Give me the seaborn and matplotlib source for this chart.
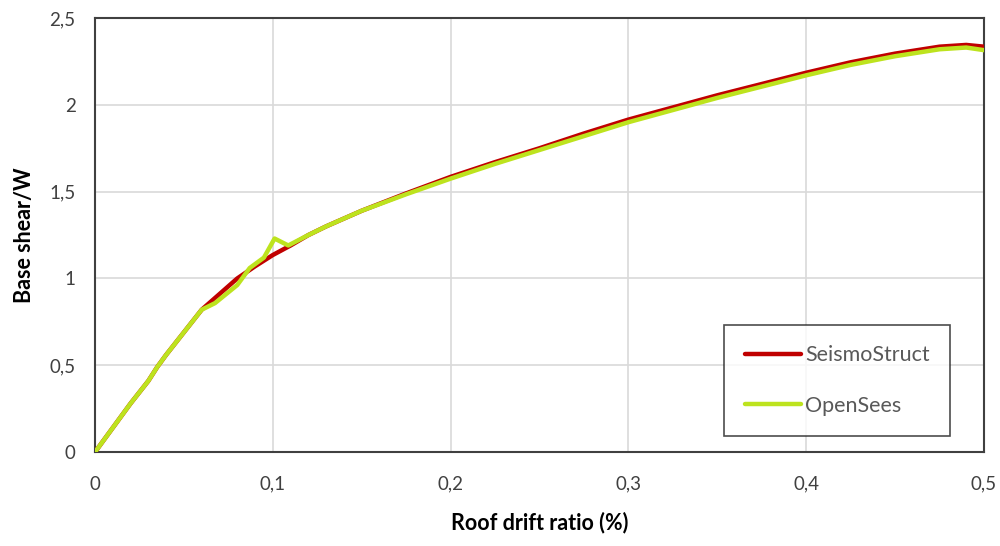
import matplotlib
matplotlib.use("Agg")
import matplotlib.pyplot as plt
import seaborn as sns
import pandas as pd

# SeismoStruct series
seismo_x = [0, 0.01, 0.02, 0.03, 0.035, 0.04, 0.05, 0.06, 0.07, 0.08, 0.09, 0.10,
            0.11, 0.12, 0.13, 0.15, 0.175, 0.20, 0.225, 0.25, 0.275, 0.30, 0.325,
            0.35, 0.375, 0.40, 0.425, 0.45, 0.475, 0.49, 0.50]
seismo_y = [0, 0.14, 0.28, 0.41, 0.49, 0.56, 0.69, 0.82, 0.91, 1.00, 1.07, 1.135,
            1.19, 1.25, 1.30, 1.39, 1.49, 1.585, 1.67, 1.75, 1.835, 1.915, 1.985,
            2.055, 2.12, 2.185, 2.245, 2.295, 2.335, 2.345, 2.335]

# OpenSees series
opensees_x = [0, 0.01, 0.02, 0.03, 0.035, 0.04, 0.05, 0.06, 0.0675, 0.08, 0.087,
              0.095, 0.101, 0.1087, 0.12, 0.13, 0.15, 0.175, 0.20, 0.225, 0.25,
              0.275, 0.30, 0.325, 0.35, 0.375, 0.40, 0.425, 0.45, 0.475, 0.49, 0.50]
opensees_y = [0, 0.14, 0.28, 0.41, 0.49, 0.56, 0.69, 0.82, 0.858, 0.962, 1.06,
              1.12, 1.23, 1.19, 1.25, 1.30, 1.39, 1.485, 1.575, 1.66, 1.74,
              1.82, 1.90, 1.97, 2.04, 2.105, 2.17, 2.23, 2.28, 2.32, 2.33, 2.315]

x_ticks = [0, 0.1, 0.2, 0.3, 0.4, 0.5]
x_ticklabels = ["0", "0,1", "0,2", "0,3", "0,4", "0,5"]
y_ticks = [0, 0.5, 1, 1.5, 2, 2.5]
y_ticklabels = ["0", "0,5", "1", "1,5", "2", "2,5"]

sns.set_theme(style="white")
plt.rcParams['font.family'] = ['Lato', 'DejaVu Sans']

fig = plt.figure(figsize=(10, 5.46), dpi=100)
ax = fig.add_axes([0.095, 0.172, 0.889, 0.795])

df_s = pd.DataFrame({"x": seismo_x, "y": seismo_y})
df_o = pd.DataFrame({"x": opensees_x, "y": opensees_y})
sns.lineplot(data=df_s, x="x", y="y", ax=ax, color="#C00000", linewidth=3.2,
             label="SeismoStruct", sort=False, zorder=3)
sns.lineplot(data=df_o, x="x", y="y", ax=ax, color="#BDE31E", linewidth=3.2,
             label="OpenSees", sort=False, zorder=4)

ax.set_xlim(0, 0.5)
ax.set_ylim(0, 2.5)
ax.set_xticks(x_ticks)
ax.set_xticklabels(x_ticklabels)
ax.set_yticks(y_ticks)
ax.set_yticklabels(y_ticklabels)
ax.tick_params(axis="both", length=0, labelsize=13.5, colors="#404040")
ax.tick_params(axis="x", pad=17)
ax.tick_params(axis="y", pad=14)
ax.grid(True, color="#D9D9D9", linewidth=1.2)
ax.set_axisbelow(True)
for s in ax.spines.values():
    s.set_visible(True)
    s.set_color("#404040")
    s.set_linewidth(1.5)

ax.set_xlabel("Roof drift ratio (%)", fontsize=15.5, fontweight="bold",
              color="#000000", labelpad=14)
ax.set_ylabel("Base shear/W", fontsize=15.5, fontweight="bold",
              color="#000000", labelpad=10)

leg = ax.legend(loc="lower right", bbox_to_anchor=(0.962, 0.037),
                fontsize=15.5, frameon=True, fancybox=False,
                labelspacing=1.4, handlelength=2.6, handletextpad=0.2,
                borderpad=0.95, borderaxespad=0)
leg.get_frame().set_edgecolor("#202020")
leg.get_frame().set_linewidth(1.2)
for t in leg.get_texts():
    t.set_color("#595959")

fig.savefig("out.png", dpi=100)
